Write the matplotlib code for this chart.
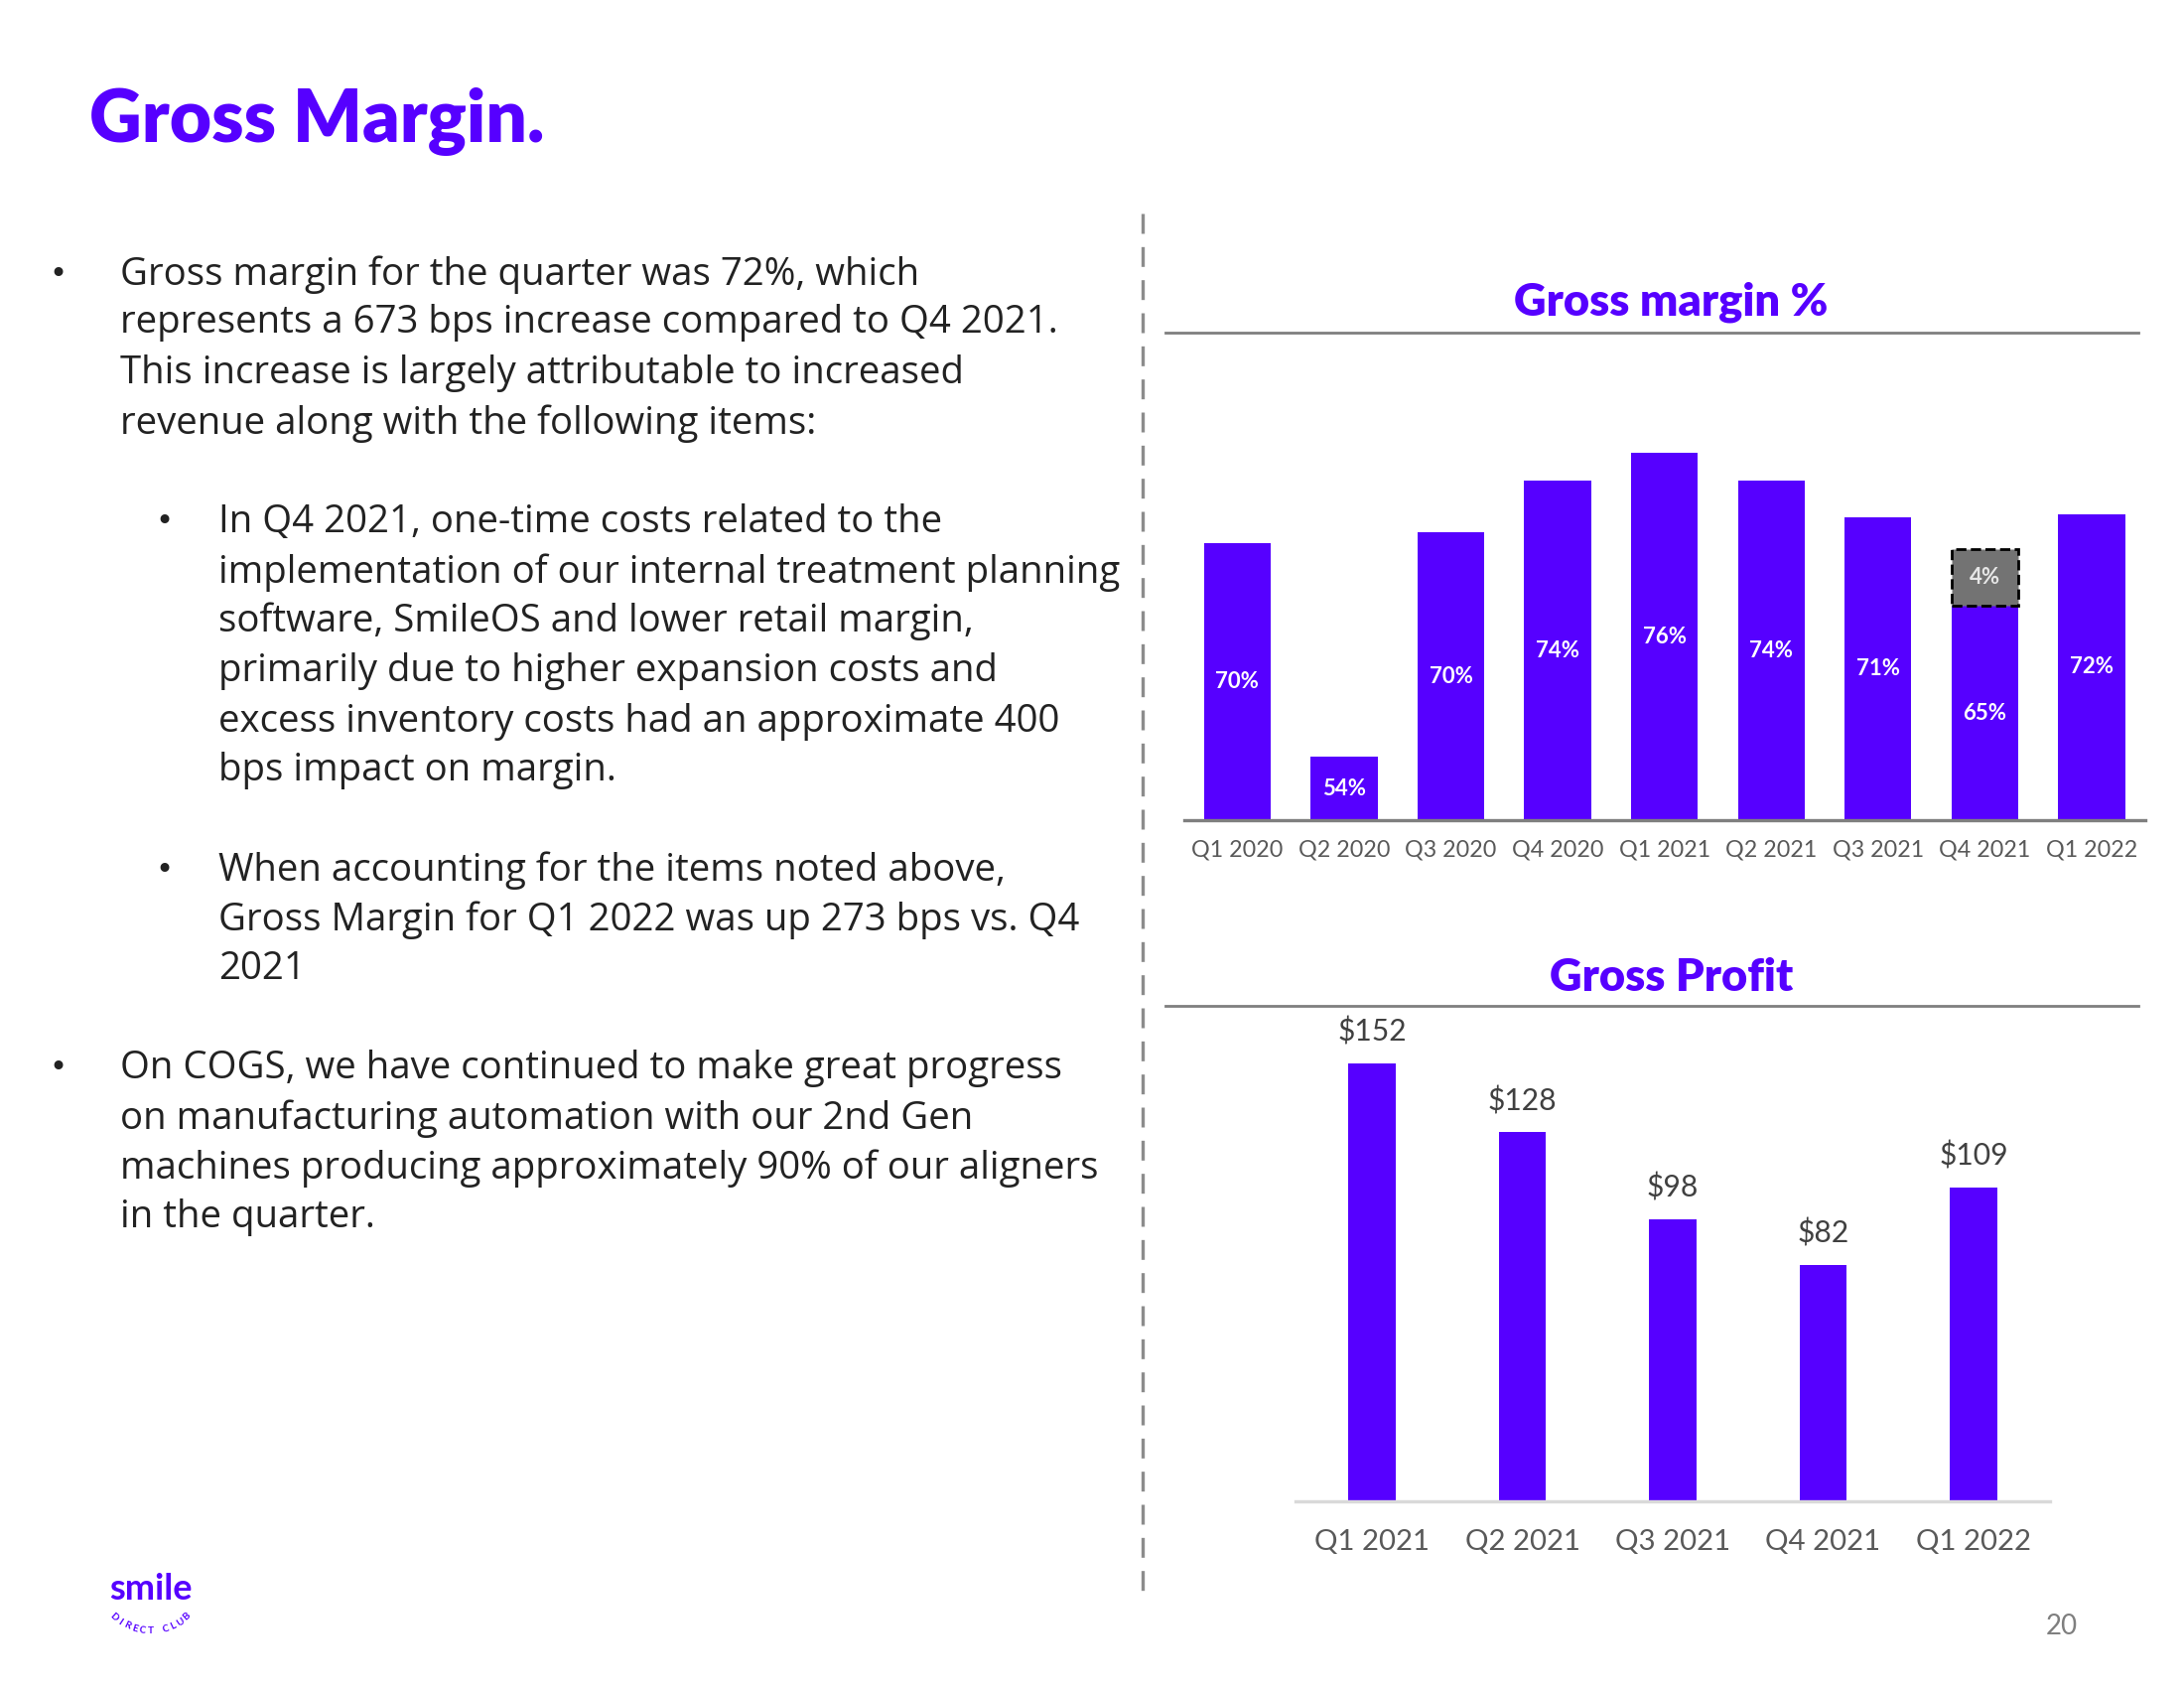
import numpy as np
import matplotlib
matplotlib.use("Agg")
import matplotlib.pyplot as plt

plt.rcParams["font.family"] = ["Lato", "DejaVu Sans"]

PURPLE = "#5600FF"
GREY_TXT = "#595959"
DARK_TXT = "#222222"

# ---- data ----
gm_quarters = ["Q1 2020", "Q2 2020", "Q3 2020", "Q4 2020", "Q1 2021",
               "Q2 2021", "Q3 2021", "Q4 2021", "Q1 2022"]
gm_values = [69.6, 54.2, 70.4, 74.1, 76.1, 74.1, 71.5, 65.1, 71.7]
gm_labels = ["70%", "54%", "70%", "74%", "76%", "74%", "71%", "65%", "72%"]
adj_quarter = "Q4 2021"
adj_value = 4.1
adj_label = "4%"

gp_quarters = ["Q1 2021", "Q2 2021", "Q3 2021", "Q4 2021", "Q1 2022"]
gp_values = [152, 128, 98, 82, 109]

# ---- figure ----
W, H = 1568, 1212   # layout units (reference pixels)
fig = plt.figure(figsize=(11, 8.5), dpi=200, facecolor="white")
bg = fig.add_axes([0, 0, 1, 1])
bg.set_xlim(0, W); bg.set_ylim(H, 0); bg.axis("off")

bg.text(64, 87, "Gross Margin.", fontsize=26.3, fontweight="heavy", color=PURPLE,
        ha="left", va="center")

# body text
BODY = 13.8
BODY_FONT = ["Open Sans", "DejaVu Sans"]
lines = [
    (86, 197, "Gross margin for the quarter was 72%, which", 42),
    (86, 232, "represents a 673 bps increase compared to Q4 2021.", None),
    (86, 268, "This increase is largely attributable to increased", None),
    (86, 304, "revenue along with the following items:", None),
    (157, 375, "In Q4 2021, one-time costs related to the", 118),
    (157, 411, "implementation of our internal treatment planning", None),
    (157, 446, "software, SmileOS and lower retail margin,", None),
    (157, 482, "primarily due to higher expansion costs and", None),
    (157, 518, "excess inventory costs had an approximate 400", None),
    (157, 553, "bps impact on margin.", None),
    (157, 625, "When accounting for the items noted above,", 118),
    (157, 661, "Gross Margin for Q1 2022 was up 273 bps vs. Q4", None),
    (157, 696, "2021", None),
    (86, 767, "On COGS, we have continued to make great progress", 42),
    (86, 803, "on manufacturing automation with our 2nd Gen", None),
    (86, 839, "machines producing approximately 90% of our aligners", None),
    (86, 874, "in the quarter.", None),
]
for x, y, s, bx in lines:
    bg.text(x, y, s, fontsize=BODY, color=DARK_TXT, ha="left", va="center",
            family=BODY_FONT)
    if bx is not None:
        bg.text(bx, y, "\u2022", fontsize=11, color=DARK_TXT, ha="center",
                va="center", family="DejaVu Sans")

# divider
bg.plot([820, 820], [153, 1145], color="#8C8C8C", lw=1.2, ls=(0, (6, 4)))

# chart headers + rules
bg.text(1200, 217, "Gross margin %", fontsize=16.3, fontweight="heavy", color=PURPLE,
        ha="center", va="center")
bg.plot([837, 1535], [239, 239], color="#7F7F7F", lw=1.0)
bg.text(1200, 702, "Gross Profit", fontsize=16.3, fontweight="heavy", color=PURPLE,
        ha="center", va="center")
bg.plot([837, 1535], [722, 722], color="#7F7F7F", lw=1.0)

bg.text(1480, 1168, "20", fontsize=10, color="#7F7F7F", ha="center", va="center")

# logo
bg.text(108, 1141, "smile", fontsize=13, fontweight="bold", color=PURPLE,
        ha="center", va="center")
logo_txt = "DIRECT CLUB"
cx, cy, r = 108, 1132, 39
angs = np.linspace(-42, 42, len(logo_txt))
for ch, a in zip(logo_txt, angs):
    px = cx + r * np.sin(np.radians(a))
    py = cy + r * np.cos(np.radians(a))
    bg.text(px, py, ch, fontsize=3.6, fontweight="bold", color=PURPLE,
            rotation=a, ha="center", va="center", rotation_mode="anchor")

# ---- gross margin % chart ----
ax1 = fig.add_axes([850 / W, 1 - 589 / H, (1540 - 850) / W, (589 - 300) / H])
x1 = np.arange(len(gm_quarters))
ax1.bar(x1, gm_values, width=0.625, color=PURPLE, bottom=0)
ai = gm_quarters.index(adj_quarter)
ax1.bar(ai, adj_value, bottom=gm_values[ai], width=0.625, color="#737373",
        edgecolor="black", linestyle="--", linewidth=1.0)
ax1.set_ylim(49.6, 78.65)
ax1.set_xlim(-0.5, len(gm_quarters) - 0.5)
for xi, v, lab in zip(x1, gm_values, gm_labels):
    ax1.text(xi, (49.6 + v) / 2, lab, ha="center", va="center", color="white",
             fontsize=8, fontweight="bold")
ax1.text(ai, gm_values[ai] + adj_value / 2, adj_label, ha="center", va="center",
         color="#E6E6E6", fontsize=8, fontweight="bold")
ax1.set_xticks(x1)
ax1.set_xticklabels(gm_quarters, fontsize=8.4, color=GREY_TXT)
ax1.tick_params(axis="x", length=0, pad=7)
ax1.set_yticks([])
for s in ["top", "right", "left"]:
    ax1.spines[s].set_visible(False)
ax1.spines["bottom"].set_color("#7F7F7F")
ax1.spines["bottom"].set_linewidth(1.2)
ax1.patch.set_alpha(0)

# ---- gross profit chart ----
ax2 = fig.add_axes([930 / W, 1 - 1078 / H, (1472 - 930) / W, (1078 - 722) / H])
x2 = np.arange(len(gp_quarters))
ax2.bar(x2, gp_values, width=0.315, color=PURPLE)
ax2.set_ylim(0, 172)
ax2.set_xlim(-0.51, len(gp_quarters) - 0.49)
for xi, v in zip(x2, gp_values):
    ax2.text(xi, v + 11, f"${v}", ha="center", va="center", color="#404040",
             fontsize=10.8)
ax2.set_xticks(x2)
ax2.set_xticklabels(gp_quarters, fontsize=10.6, color=GREY_TXT)
ax2.tick_params(axis="x", length=0, pad=10)
ax2.set_yticks([])
for s in ["top", "right", "left"]:
    ax2.spines[s].set_visible(False)
ax2.spines["bottom"].set_color("#D9D9D9")
ax2.spines["bottom"].set_linewidth(1.2)
ax2.patch.set_alpha(0)

fig.savefig("out.png", dpi=200, facecolor="white")
